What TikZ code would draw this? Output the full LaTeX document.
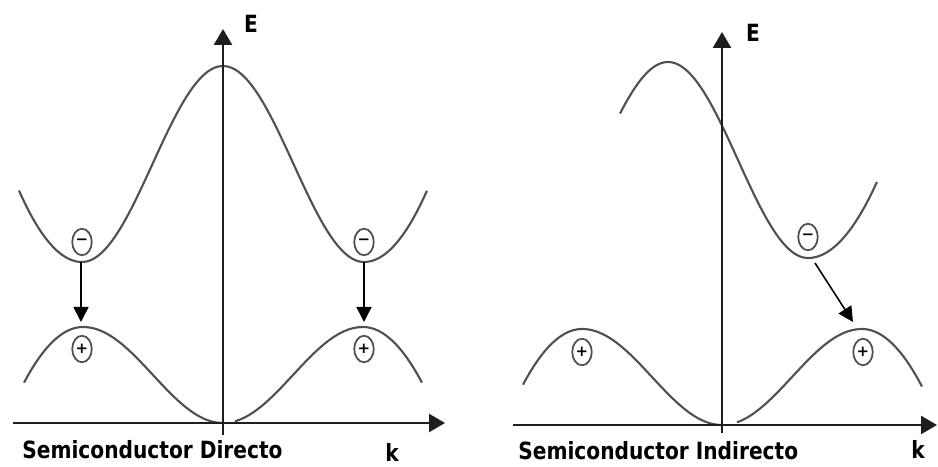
\documentclass[tikz,border=0pt]{standalone}
\usepackage{fontspec}
\setmainfont{DejaVu Sans}
\usetikzlibrary{positioning,arrows.meta,shapes.geometric}
\definecolor{bandgray}{RGB}{80,80,80}
\definecolor{axisgray}{RGB}{30,30,30}
\newcommand{\narrowtext}[1]{\scalebox{0.85}[1]{#1}}
\tikzset{
  axis/.style={-{Triangle[length=3.2mm,width=3.6mm]}, line width=1.5pt, axisgray},
  band/.style={line width=1.2pt, bandgray, samples=120},
  trans/.style={-{Triangle[length=3mm,width=3mm]}, line width=0.9pt, black},
  carrier/.style={ellipse, draw=bandgray, line width=1pt, minimum width=3.9mm,
                  minimum height=5.3mm, inner sep=0pt, font=\fontsize{8.5}{8.5}\selectfont\bfseries},
  lbl/.style={inner sep=0pt, font=\fontsize{13.5}{16}\selectfont\bfseries},
  declare function={
    cbd(\x)=abs(\x)<2.82 ? 5.18+1.96*cos(63.83*\x) : 3.22+0.9*(abs(\x)-2.82)*(abs(\x)-2.82);
    vb(\x)=abs(\x)<2.8 ? 0.96*(1-cos(64.29*\x)) : 1.92-0.8*(abs(\x)-2.8)*(abs(\x)-2.8);
    cbi(\x)=\x<1.72 ? 5.30+1.96*cos(64.29*(\x+1.08)) : 3.34+0.8*(\x-1.72)*(\x-1.72);
  }
}

\begin{document}
\begin{tikzpicture}
        \useasboundingbox (-4.46,-0.86) rectangle (14.30,8.46);
        % directo
        \draw[band] plot[domain=-4.08:4.08] (\x,{cbd(\x)});
        \draw[band] plot[domain=-3.98:0] (\x,{vb(\x)});
        \draw[band] plot[domain=0.24:3.98] (\x,{vb(\x)});
        \draw[axis] (-4.2,0) -- (4.44,0);
        \draw[axis] (0,-0.24) -- (0,7.88);
        \node[carrier] (eL) at (-2.82,3.62) {−};
        \node[carrier] (eR) at (2.82,3.62) {−};
        \node[carrier] (hL) at (-2.82,1.48) {+};
        \node[carrier] (hR) at (2.82,1.48) {+};
        \coordinate (cL) at (-2.84,3.22); \coordinate (vL) at (-2.84,2.02);
        \coordinate (cR) at (2.82,3.22);  \coordinate (vR) at (2.82,2.02);
        \draw[trans] (cL) -- (vL); \draw[trans] (cR) -- (vR);
        \node[lbl] (eD) at (0.56,7.98) {\narrowtext{E}};
        \node[lbl, anchor=base] (kD) at (3.38,-0.76) {\narrowtext{k}};
        \node[lbl, anchor=base west] (tD) at (-4.02,-0.70) {\narrowtext{Semiconductor Directo}};
        % indirecto
        \begin{scope}[shift={(9.98,-0.04)}]
        \draw[band] plot[domain=-2.04:3.1] (\x,{cbi(\x)});
        \draw[band] plot[domain=-3.98:0] (\x,{vb(\x)});
        \draw[band] plot[domain=0.3:4.0] (\x,{vb(\x)});
        \draw[axis] (-4.18,0) -- (4.3,0);
        \draw[axis] (0,-0.16) -- (0,7.86);
        \node[carrier] (eI) at (1.72,3.76) {−};
        \node[carrier] (hI1) at (-2.8,1.46) {+};
        \node[carrier] (hI2) at (2.82,1.46) {+};
        \coordinate (cI) at (1.86,3.24); \coordinate (vI) at (2.62,2.06);
        \draw[trans] (cI) -- (vI);
        \node[lbl] (eI2) at (0.62,7.84) {\narrowtext{E}};
        \node[lbl, anchor=base] (kI) at (3.92,-0.66) {\narrowtext{k}};
        \node[lbl, anchor=base west] (tI) at (-4.08,-0.68) {\narrowtext{Semiconductor Indirecto}};
        \end{scope}
      \end{tikzpicture}
\end{document}
